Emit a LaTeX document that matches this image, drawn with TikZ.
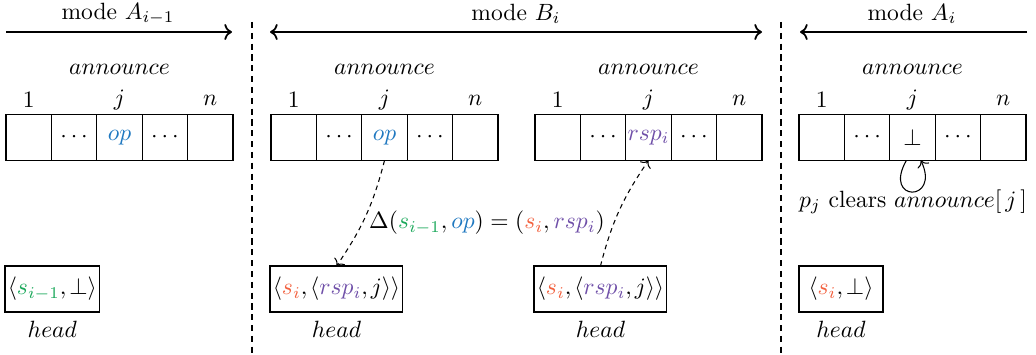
\documentclass[tikz,border=0pt]{standalone}
\usetikzlibrary{arrows.meta}
\definecolor{cgreen}{HTML}{1AA85A}
\definecolor{cblue}{HTML}{1F78C0}
\definecolor{corange}{HTML}{F2613F}
\definecolor{cpurple}{HTML}{6F4FA8}
\newcommand\cmm{,\mkern-0.8mu}
\tikzset{
  cell/.style={draw, line width=0.45pt, minimum width=19.3pt, minimum height=19.55pt, inner sep=0pt, outer sep=0pt},
  headbox/.style={draw, line width=0.45pt, minimum height=19.55pt, inner sep=1.2pt, outer sep=0pt, anchor=west},
  modearrow/.style={line width=0.75pt},
  divider/.style={line width=0.6pt, dash pattern=on 2.6pt off 2pt},
  flow/.style={line width=0.45pt, dash pattern=on 2pt off 1.7pt, ->},
  lbl/.style={inner sep=0pt}
}
\newcommand\annarr[3]{%
  \node[cell] (#1-1) at ({#2+0.5*45.4},137.5) {};
  \node[cell] (#1-2) at ({#2+1.5*45.4},137.5) {$\cdots$};
  \node[cell] (#1-3) at ({#2+2.5*45.4},137.5) {#3};
  \node[cell] (#1-4) at ({#2+3.5*45.4},137.5) {$\cdots$};
  \node[cell] (#1-5) at ({#2+4.5*45.4},137.5) {};
  \node[lbl] (#1-i1) at ({#2+0.5*45.4},100) {$1$};
  \node[lbl] (#1-ij) at ({#2+2.5*45.4},100) {$j$};
  \node[lbl] (#1-in) at ({#2+4.5*45.4},100) {$n$};
  \node[lbl] (#1-t) at ({#2+2.5*45.4},69) {$announce$};
}
\begin{document}
\begin{tikzpicture}[x=0.425pt,y=-0.425pt]
\useasboundingbox (0,0) rectangle (1036,355);
% dividers
\coordinate (v1t) at (252,22); \coordinate (v1b) at (252,355);
\coordinate (v2t) at (781,22); \coordinate (v2b) at (781,355);
\draw[divider] (v1t) -- (v1b);
\draw[divider] (v2t) -- (v2b);
% mode arrows
\node[lbl] (mA1) at (118,14) {mode $A_{i-1}$};
\node[lbl] (mB) at (516,14) {mode $B_i$};
\node[lbl] (mA2) at (912,14) {mode $A_i$};
\coordinate (a1s) at (6,32); \coordinate (a1e) at (232,32);
\coordinate (a2s) at (270,32); \coordinate (a2e) at (762,32);
\coordinate (a3s) at (1027,32); \coordinate (a3e) at (800,32);
\draw[modearrow,->] (a1s) -- (a1e);
\draw[modearrow,<->] (a2s) -- (a2e);
\draw[modearrow,->] (a3s) -- (a3e);
% arrays
\annarr{a}{6}{$\color{cblue}op$}
\annarr{b}{271}{$\color{cblue}op$}
\annarr{c}{535}{$\color{cpurple}rsp_i$}
\annarr{d}{799}{$\bot$}
% head boxes
\node[headbox, minimum width=35.7pt] (h1) at (5,289) {$\langle {\color{cgreen}s_{i-1}}\cmm \bot\rangle$};
\node[headbox, minimum width=54.8pt] (h2) at (270,289) {$\langle {\color{corange}s_i}\cmm \langle {\color{cpurple}rsp_i}\cmm j\rangle\rangle$};
\node[headbox, minimum width=55.25pt] (h3) at (534,289) {$\langle {\color{corange}s_i}\cmm \langle {\color{cpurple}rsp_i}\cmm j\rangle\rangle$};
\node[headbox, minimum width=35.7pt] (h4) at (799,289) {$\langle {\color{corange}s_i}\cmm \bot\rangle$};
\path (h1.south) ++(0,17) node[lbl] (hl1) {$head$};
\path (h2.south) ++(0,17) node[lbl] (hl2) {$head$};
\path (h3.south) ++(0,17) node[lbl] (hl3) {$head$};
\path (h4.south) ++(0,17) node[lbl] (hl4) {$head$};
% transitions
\draw[flow] (b-3.south) to[bend left=10] (h2.north);
\draw[flow] (h3.north) to[bend left=10] (c-3.south);
\node[lbl] (delta) at (487,223) {$\Delta({\color{cgreen}s_{i-1}}, {\color{cblue}op}) = ({\color{corange}s_i}, {\color{cpurple}rsp_i})$};
% clear loop
\draw[line width=0.45pt,->] (d-3.-105) .. controls +(-24,42) and +(20,42) .. (d-3.-70);
\node[lbl] (clr) at (913,202) {$p_j$ clears $announce[\,j\,]$};
\end{tikzpicture}
\end{document}
